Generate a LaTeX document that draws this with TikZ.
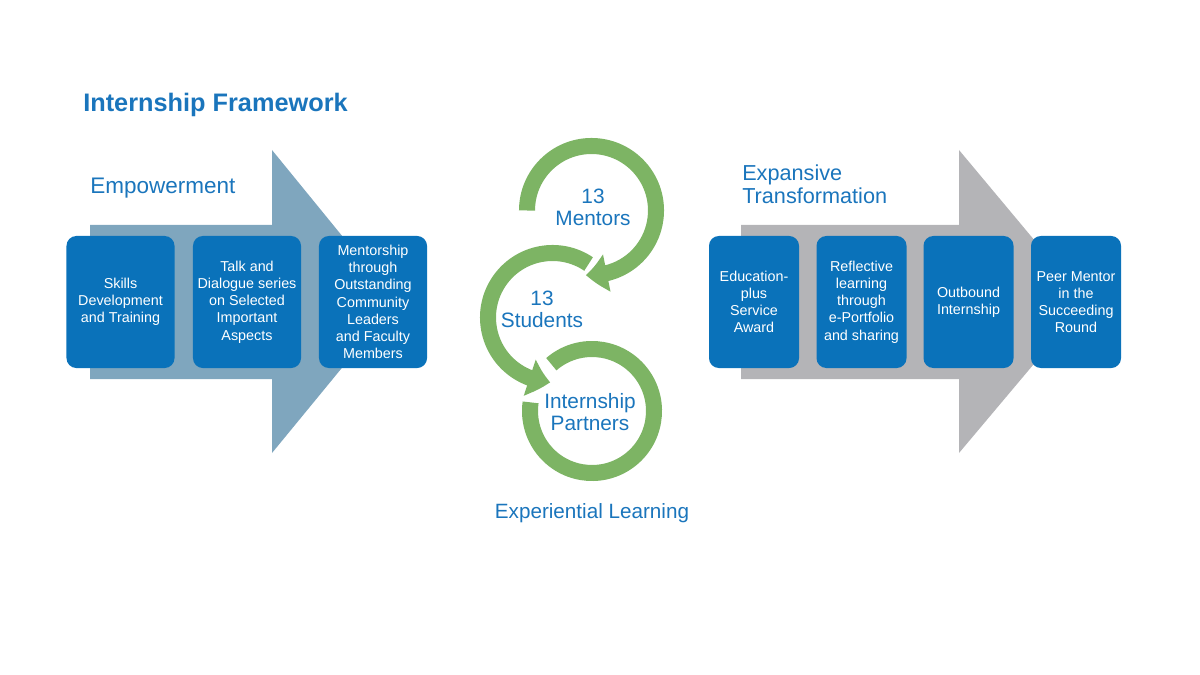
\documentclass[tikz,border=0pt]{standalone}
\usepackage{fontspec}
\setmainfont{Liberation Sans}
\usetikzlibrary{arrows.meta,bending}
\definecolor{boxblue}{HTML}{0A72BA}
\definecolor{txtblue}{HTML}{1A75BC}
\definecolor{steelarrow}{HTML}{7FA6BE}
\definecolor{greyarrow}{HTML}{B4B4B7}
\definecolor{ringgreen}{HTML}{7DB464}
\tikzset{
  stepbox/.style={fill=boxblue, rounded corners=7pt, text=white, align=center,
    minimum height=3.3cm, inner sep=1pt, font=\fontsize{10.2}{12.2}\selectfont},
  ring/.style={draw=ringgreen, line width=11.4pt},
  ringtip/.style={-{Triangle[length=15pt,width=26pt,bend]}},
  bluelabel/.style={text=txtblue, align=center, inner sep=0pt},
}
\begin{document}
\begin{tikzpicture}[>=latex, x=0.025cm, y=0.025cm]
    \useasboundingbox (0,0) rectangle (1200,-675);
    \node[bluelabel, anchor=base west, font=\fontsize{18}{20}\selectfont\bfseries]
      (title) at (83,-112) {Internship Framework};
    % --- left arrow: Empowerment
    \begin{scope}
      \fill[steelarrow] (90,-225) -- (272,-225) -- (272,-150) -- (396,-302)
        -- (272,-453) -- (272,-379) -- (90,-379) -- cycle;
      \node[bluelabel, anchor=base west, font=\fontsize{16}{18}\selectfont]
        (empower) at (90,-194) {Empowerment};
      \foreach \xx/\nm/\txt in {120.5/skills/{Skills\\Development\\and Training},
          247/talk/{Talk and\\Dialogue series\\on Selected\\Important\\Aspects},
          373/mentor/{Mentorship\\through\\Outstanding\\Community\\Leaders\\and Faculty\\Members}} {
        \node[stepbox, minimum width=2.7cm] (\nm) at (\xx,-302) {\txt};
      }
    \end{scope}
    % --- middle rings: Experiential Learning
    \begin{scope}
      \coordinate (c1) at (591.5,-210.5);
      \coordinate (c2) at (552.5,-317.5);
      \coordinate (c3) at (592,-411);
      \draw[ring, ringtip] (c1) ++(180:64.5)
        arc[start angle=180, end angle=-95, radius=64.5];
      \draw[ring, ringtip] (c2) ++(56:64.5)
        arc[start angle=56, end angle=268, radius=64.5];
      \draw[ring] (c3) ++(131:62) arc[start angle=131, end angle=-188, radius=62];
      \node[bluelabel, font=\fontsize{14.8}{15.6}\selectfont] (mentors) at (593,-207) {13\\Mentors};
      \node[bluelabel, font=\fontsize{14.8}{15.6}\selectfont] (students) at (542,-309.5) {13\\Students};
      \node[bluelabel, font=\fontsize{14.8}{15.6}\selectfont] (partners) at (590,-412.5) {Internship\\Partners};
      \node[bluelabel, anchor=base, font=\fontsize{14.7}{16}\selectfont]
        (experiential) at (592,-518) {Experiential Learning};
    \end{scope}
    % --- right arrow: Expansive Transformation
    \begin{scope}
      \fill[greyarrow] (741,-225) -- (959,-225) -- (959,-150) -- (1086,-302)
        -- (959,-453) -- (959,-379) -- (741,-379) -- cycle;
      \node[bluelabel, anchor=west, align=left, font=\fontsize{15.4}{16.6}\selectfont]
        (expansive) at (742,-184) {Expansive\\Transformation};
      \foreach \xx/\nm/\txt in {754/award/{Education-\\plus\\Service\\Award},
          861.5/reflect/{Reflective\\learning\\through\\e-Portfolio\\and sharing},
          968.5/outbound/{Outbound\\Internship},
          1076/peer/{Peer Mentor\\in the\\Succeeding\\Round}} {
        \node[stepbox, minimum width=2.25cm] (\nm) at (\xx,-302) {\txt};
      }
    \end{scope}
  \end{tikzpicture}
\end{document}
